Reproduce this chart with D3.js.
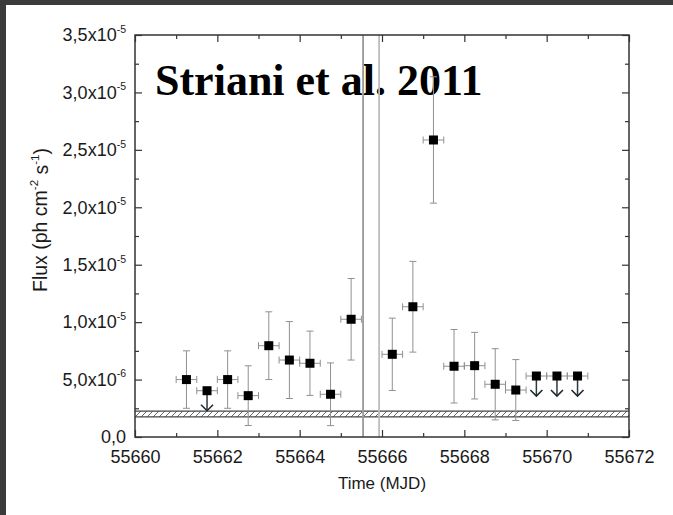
<!DOCTYPE html>
<html><head><meta charset="utf-8">
<script src="https://cdn.jsdelivr.net/npm/d3@7/dist/d3.min.js"></script>
<style>
html,body{margin:0;padding:0;background:#fff;}
svg{display:block;}
</style></head>
<body>
<svg id="chart" width="673" height="515"></svg>
<script>
// ---- data ----
const times = [55661.25, 55661.75, 55662.25, 55662.75, 55663.25, 55663.75, 55664.25, 55664.75, 55665.25,
               55666.25, 55666.75, 55667.25, 55667.75, 55668.25, 55668.75, 55669.25, 55669.75, 55670.25, 55670.75];
const flux = [5.0e-6, 4.03e-6, 5.0e-6, 3.6e-6, 7.95e-6, 6.7e-6, 6.42e-6, 3.72e-6, 10.25e-6,
              7.2e-6, 11.34e-6, 25.86e-6, 6.16e-6, 6.21e-6, 4.59e-6, 4.09e-6, 5.31e-6, 5.31e-6, 5.31e-6];
const fluxErr = [2.5e-6, null, 2.5e-6, 2.6e-6, 2.95e-6, 3.35e-6, 2.8e-6, 2.73e-6, 3.55e-6,
                 3.15e-6, 3.95e-6, 5.5e-6, 3.2e-6, 2.9e-6, 3.1e-6, 2.65e-6, null, null, null];
const upperLimit = [false, true, false, false, false, false, false, false, false,
                    false, false, false, false, false, false, false, true, true, true];
const timeHalfWidth = 0.25;
const verticalLines = [55665.54, 55665.93];
const band = [1.75e-6, 2.25e-6];
const xMajorTicks = [55660, 55662, 55664, 55666, 55668, 55670, 55672];
const xMinorTicks = [55661, 55663, 55665, 55667, 55669, 55671];
const yMajorTicks = [0, 5e-6, 1e-5, 1.5e-5, 2e-5, 2.5e-5, 3e-5, 3.5e-5];
const yTickMantissa = ["0,0", "5,0x10", "1,0x10", "1,5x10", "2,0x10", "2,5x10", "3,0x10", "3,5x10"];
const yTickExponent = ["", "-6", "-5", "-5", "-5", "-5", "-5", "-5"];
const yMinorTicks = [2.5e-6, 7.5e-6, 1.25e-5, 1.75e-5, 2.25e-5, 2.75e-5, 3.25e-5];
const annotation = "Striani et al. 2011";
const xTitle = "Time (MJD)";

// ---- layout ----
const L = 135, R = 629, T = 35, B = 437;
const svg = d3.select("#chart");
const x = d3.scaleLinear().domain([55660, 55672]).range([L, R]);
const y = d3.scaleLinear().domain([0, 3.5e-5]).range([B, T]);

// dark borders of the scanned page
svg.append("rect").attr("x",0).attr("y",0).attr("width",673).attr("height",5).attr("fill","#3b3b3b");
svg.append("rect").attr("x",0).attr("y",0).attr("width",6).attr("height",515).attr("fill","#3b3b3b");

// hatch pattern
const defs = svg.append("defs");
const pat = defs.append("pattern").attr("id","hatch").attr("patternUnits","userSpaceOnUse")
  .attr("width",6).attr("height",6);
pat.append("rect").attr("width",6).attr("height",6).attr("fill","#fff");
pat.append("line").attr("x1",0).attr("y1",6).attr("x2",6).attr("y2",0).attr("stroke","#666").attr("stroke-width",1);

// annotation text (under the vertical lines)
svg.append("text").attr("x",155).attr("y",95)
  .attr("font-family","'Liberation Serif','Times New Roman',serif").attr("font-weight","bold")
  .attr("font-size",44).attr("fill","#000").text(annotation);

// band
svg.append("rect").attr("x",L).attr("width",R-L)
  .attr("y",y(band[1])).attr("height",y(band[0])-y(band[1]))
  .attr("fill","url(#hatch)").attr("stroke","none");
[band[0], band[1]].forEach(v => {
  svg.append("line").attr("x1",L).attr("x2",R).attr("y1",y(v)).attr("y2",y(v))
    .attr("stroke","#444").attr("stroke-width",1.2);
});

// vertical lines
const vlColors = ["#9a9a9a", "#bdbdbd"];
svg.selectAll("line.vl").data(verticalLines).enter().append("line").attr("class","vl")
  .attr("x1",d=>x(d)).attr("x2",d=>x(d)).attr("y1",T).attr("y2",B)
  .attr("stroke",(d,i)=>vlColors[i]).attr("stroke-width",1.8);

// data
const pts = times.map((t,i)=>({t, f:flux[i], e:fluxErr[i], ul:upperLimit[i]}));
const errC = "#909090", cap = 3.5;
const g = svg.append("g");
pts.forEach(p => {
  const cx = x(p.t), cy = y(p.f);
  const x0 = x(p.t - timeHalfWidth), x1 = x(p.t + timeHalfWidth);
  g.append("line").attr("x1",x0).attr("x2",x1).attr("y1",cy).attr("y2",cy).attr("stroke",errC).attr("stroke-width",1);
  [x0,x1].forEach(xx => g.append("line").attr("x1",xx).attr("x2",xx).attr("y1",cy-cap).attr("y2",cy+cap).attr("stroke",errC).attr("stroke-width",1));
  if (p.e != null) {
    const y0 = y(p.f + p.e), y1 = y(p.f - p.e);
    g.append("line").attr("x1",cx).attr("x2",cx).attr("y1",y0).attr("y2",y1).attr("stroke",errC).attr("stroke-width",1);
    [y0,y1].forEach(yy => g.append("line").attr("x1",cx-cap).attr("x2",cx+cap).attr("y1",yy).attr("y2",yy).attr("stroke",errC).attr("stroke-width",1));
  }
  if (p.ul) {
    const len = 20;
    g.append("line").attr("x1",cx).attr("x2",cx).attr("y1",cy).attr("y2",cy+len).attr("stroke","#2b3a40").attr("stroke-width",1.5);
    g.append("path").attr("d",`M${cx-6},${cy+len-6}L${cx},${cy+len}L${cx+6},${cy+len-6}`)
      .attr("fill","none").attr("stroke","#1f2a2e").attr("stroke-width",1.6);
  }
  g.append("rect").attr("x",cx-4.5).attr("y",cy-4.5).attr("width",9).attr("height",9).attr("fill","#000");
});

// axes
const fontFam = "'Liberation Sans',Arial,sans-serif";
function styleAxis(sel){
  sel.select(".domain").remove();
  sel.selectAll(".tick line").attr("stroke","#333").attr("stroke-width",1.2);
  sel.selectAll("text").attr("font-family",fontFam).attr("font-size",18).attr("fill","#1a1a1a");
}
const xb = svg.append("g").attr("transform",`translate(0,${B})`)
  .call(d3.axisBottom(x).tickValues(xMajorTicks).tickSize(-7).tickPadding(13).tickFormat(d3.format("d")));
styleAxis(xb);
const xbm = svg.append("g").attr("transform",`translate(0,${B})`)
  .call(d3.axisBottom(x).tickValues(xMinorTicks).tickSize(-4).tickFormat(""));
styleAxis(xbm);
const xt = svg.append("g").attr("transform",`translate(0,${T})`)
  .call(d3.axisTop(x).tickValues(xMajorTicks).tickSize(-7).tickFormat(""));
styleAxis(xt);
const xtm = svg.append("g").attr("transform",`translate(0,${T})`)
  .call(d3.axisTop(x).tickValues(xMinorTicks).tickSize(-4).tickFormat(""));
styleAxis(xtm);

const yl = svg.append("g").attr("transform",`translate(${L},0)`)
  .call(d3.axisLeft(y).tickValues(yMajorTicks).tickSize(-7).tickPadding(9).tickFormat((d,i)=>yTickMantissa[i]));
styleAxis(yl);
yl.selectAll(".tick text").each(function(d,i){
  const exp = yTickExponent[i];
  if (exp) {
    d3.select(this).append("tspan").attr("font-size",10.5).attr("dy","-0.8em").text(exp);
  }
});
const ylm = svg.append("g").attr("transform",`translate(${L},0)`)
  .call(d3.axisLeft(y).tickValues(yMinorTicks).tickSize(-4).tickFormat(""));
styleAxis(ylm);
const yr = svg.append("g").attr("transform",`translate(${R},0)`)
  .call(d3.axisRight(y).tickValues(yMajorTicks).tickSize(-7).tickFormat(""));
styleAxis(yr);
const yrm = svg.append("g").attr("transform",`translate(${R},0)`)
  .call(d3.axisRight(y).tickValues(yMinorTicks).tickSize(-4).tickFormat(""));
styleAxis(yrm);

// frame
svg.append("rect").attr("x",L).attr("y",T).attr("width",R-L).attr("height",B-T)
  .attr("fill","none").attr("stroke","#333").attr("stroke-width",1.5);

// axis titles
svg.append("text").attr("x",(L+R)/2).attr("y",489).attr("text-anchor","middle")
  .attr("font-family",fontFam).attr("font-size",17).attr("fill","#1a1a1a").text(xTitle);

const yt = svg.append("text").attr("transform","translate(47,220) rotate(-90)").attr("text-anchor","middle")
  .attr("font-family",fontFam).attr("font-size",19.5).attr("fill","#1a1a1a");
yt.append("tspan").text("Flux (ph cm");
yt.append("tspan").attr("font-size",11.5).attr("dy","-0.75em").text("-2");
yt.append("tspan").attr("dy","0.48em").text(" s");
yt.append("tspan").attr("font-size",11.5).attr("dy","-0.75em").text("-1");
yt.append("tspan").attr("dy","0.48em").text(")");
</script>
</body></html>
